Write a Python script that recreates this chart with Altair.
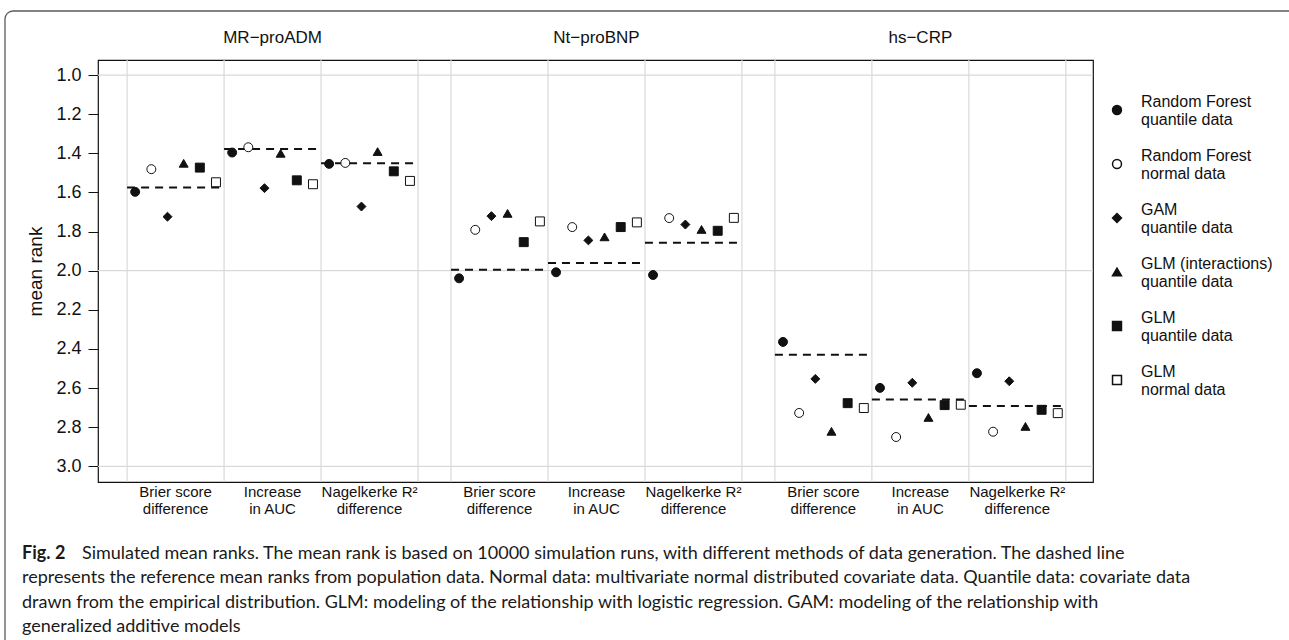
import math
import altair as alt
import pandas as pd

# ---------------- data ----------------
markers = ["MR\u2212proADM", "Nt\u2212proBNP", "hs\u2212CRP"]
metric_line1 = ["Brier score", "Increase", "Nagelkerke R\u00b2"]
metric_line2 = ["difference", "in AUC", "difference"]
method_name = ["Random Forest", "Random Forest", "GAM", "GLM (interactions)", "GLM", "GLM"]
method_data = ["quantile data", "normal data", "quantile data", "quantile data", "quantile data", "normal data"]

rf_quantile      = [1.597, 1.396, 1.454, 2.039, 2.008, 2.022, 2.364, 2.599, 2.524]
rf_normal        = [1.481, 1.369, 1.449, 1.791, 1.777, 1.731, 2.727, 2.850, 2.823]
gam_quantile     = [1.724, 1.578, 1.672, 1.721, 1.845, 1.764, 2.553, 2.573, 2.565]
glm_int_quantile = [1.451, 1.400, 1.391, 1.707, 1.827, 1.789, 2.821, 2.750, 2.796]
glm_quantile     = [1.473, 1.538, 1.492, 1.854, 1.777, 1.796, 2.677, 2.687, 2.711]
glm_normal       = [1.548, 1.558, 1.541, 1.748, 1.753, 1.730, 2.702, 2.685, 2.728]
reference_rank   = [1.575, 1.378, 1.451, 1.995, 1.961, 1.857, 2.429, 2.658, 2.692]

y_ticks = [1.0, 1.2, 1.4, 1.6, 1.8, 2.0, 2.2, 2.4, 2.6, 2.8, 3.0]
y_grid = [1.0, 2.0, 3.0]

caption_label = "Fig. 2"
caption_first = ("Simulated mean ranks. The mean rank is based on 10000 simulation runs, "
                 "with different methods of data generation. The dashed line")
caption_rest = [
    "represents the reference mean ranks from population data. Normal data: multivariate normal "
    "distributed covariate data. Quantile data: covariate data",
    "drawn from the empirical distribution. GLM: modeling of the relationship with logistic "
    "regression. GAM: modeling of the relationship with",
    "generalized additive models",
]

# ---------------- styles ----------------
method_shapes = ["circle", "circle", "diamond", "triangle-up", "square", "square"]
method_fills = ["#111111", "#ffffff", "#111111", "#111111", "#111111", "#ffffff"]
method_sizes = [80, 80, 55, 100, 105, 90]
PANEL_STEP = 3.34
INK = "#111111"
FRAME = "#5a5a5a"
FONT = "Liberation Sans"
CAP_FONT = "Lato"

methods = [f"{a}|{b}" for a, b in zip(method_name, method_data)]
series = [rf_quantile, rf_normal, gam_quantile, glm_int_quantile, glm_quantile, glm_normal]

points = pd.DataFrame([
    {"panel": p, "metric": m, "slot": k, "method": methods[k], "rank": series[k][p * 3 + m]}
    for p in range(3) for m in range(3) for k in range(6)
])
refs = pd.DataFrame([
    {"panel": p, "metric": m, "rank": reference_rank[p * 3 + m]}
    for p in range(3) for m in range(3)
])
vgrid = pd.DataFrame([{"panel": p, "edge": b} for p in range(3) for b in range(4)])
hgrid = pd.DataFrame({"rank": y_grid})
strips = pd.DataFrame({"panel": list(range(3)), "label": markers})
xlabels = pd.DataFrame([
    {"panel": p, "metric": m, "label": metric_line1[m] + "\n" + metric_line2[m]}
    for p in range(3) for m in range(3)
])

xscale = alt.Scale(domain=[-0.3, 3 * 3 + 2 * (PANEL_STEP - 3) + 0.28], nice=False, zero=False)
yscale = alt.Scale(domain=[0.923, 3.08], reverse=True, nice=False, zero=False)
yaxis = alt.Axis(values=y_ticks, format=".1f", title="mean rank", grid=False, domain=False,
                 tickSize=10, tickColor=INK, tickWidth=1, labelFontSize=18, labelColor=INK,
                 labelPadding=7, titleFontSize=19, titleFontWeight="normal", titleColor=INK,
                 titlePadding=10)

X = alt.X("x:Q", scale=xscale, axis=None)
Y = alt.Y("rank:Q", scale=yscale, axis=yaxis)

vlines = alt.Chart(vgrid).transform_calculate(
    x=f"datum.panel * {PANEL_STEP} + datum.edge"
).mark_rule(color="#d9d9d9", strokeWidth=1.2).encode(x=X)

hlines = alt.Chart(hgrid).mark_rule(color="#d9d9d9", strokeWidth=1.2).encode(y=Y)

reflines = alt.Chart(refs).transform_calculate(
    x=f"datum.panel * {PANEL_STEP} + datum.metric",
    x2=f"datum.panel * {PANEL_STEP} + datum.metric + 1",
).mark_rule(color=INK, strokeWidth=2, strokeDash=[8, 6]).encode(
    x=X, x2=alt.X2("x2:Q"), y=Y
)

legend = alt.Legend(title=None, orient="none", legendX=1011, legendY=42,
                    labelExpr="split(datum.label, '|')", labelFontSize=16, labelColor=INK,
                    labelFont=FONT, labelOffset=16, rowPadding=20, padding=0,
                    labelBaseline="bottom")

pts = alt.Chart(points).transform_calculate(
    x=f"datum.panel * {PANEL_STEP} + datum.metric + (datum.slot + 0.5) / 6"
).mark_point(strokeWidth=1, opacity=1).encode(
    x=X,
    y=Y,
    shape=alt.Shape("method:N", scale=alt.Scale(domain=methods, range=method_shapes), legend=legend),
    fill=alt.Fill("method:N", scale=alt.Scale(domain=methods, range=method_fills), legend=legend),
    stroke=alt.Stroke("method:N", scale=alt.Scale(domain=methods, range=[INK] * 6), legend=legend),
    size=alt.Size("method:N", scale=alt.Scale(domain=methods, range=method_sizes), legend=legend),
)

strip_text = alt.Chart(strips).transform_calculate(
    x=f"datum.panel * {PANEL_STEP} + 1.5"
).mark_text(font=FONT, fontSize=17, color=INK, baseline="alphabetic").encode(
    x=X, y=alt.value(-17), text="label:N"
)

xlab_text = alt.Chart(xlabels).transform_calculate(
    x=f"datum.panel * {PANEL_STEP} + datum.metric + 0.5"
).mark_text(font=FONT, fontSize=15, color=INK, baseline="alphabetic", lineBreak="\n",
            lineHeight=17).encode(
    x=X, y=alt.value(437), text="label:N"
)

# outer figure frame: top edge, left edge and the rounded top-left corner
one = pd.DataFrame({"a": [0]})
frame_top = alt.Chart(one).mark_rule(color=FRAME, strokeWidth=1.3).encode(
    x=alt.value(-85), x2=alt.value(1300), y=alt.value(-49))
frame_left = alt.Chart(one).mark_rule(color=FRAME, strokeWidth=1.3).encode(
    x=alt.value(-93), y=alt.value(-41), y2=alt.value(1000))
frame_corner = alt.Chart(one).mark_arc(
    theta=1.5 * math.pi, theta2=2 * math.pi, radius=8, radius2=8,
    fill="transparent", stroke=FRAME, strokeWidth=1.3
).encode(x=alt.value(-85), y=alt.value(-41))

cap_label = alt.Chart(pd.DataFrame({"t": [caption_label]})).mark_text(
    font=CAP_FONT, fontSize=18, fontWeight="bold", color="#1a1a1a", align="left", baseline="alphabetic"
).encode(x=alt.value(-76), y=alt.value(499), text="t:N")

cap_first = alt.Chart(pd.DataFrame({"t": [caption_first]})).mark_text(
    font=CAP_FONT, fontSize=18, color="#1a1a1a", align="left", baseline="alphabetic"
).encode(x=alt.value(-16), y=alt.value(499), text="t:N")

cap_rest = alt.Chart(pd.DataFrame({"t": ["\n".join(caption_rest)]})).mark_text(
    font=CAP_FONT, fontSize=18, color="#1a1a1a", align="left", baseline="alphabetic",
    lineBreak="\n", lineHeight=24.3
).encode(x=alt.value(-76), y=alt.value(523.3), text="t:N")

chart = alt.layer(
    frame_top, frame_left, frame_corner, vlines, hlines, reflines, pts,
    strip_text, xlab_text, cap_label, cap_first, cap_rest
).properties(
    width=995, height=422, autosize="none",
    padding={"left": 98, "top": 60, "right": 196, "bottom": 158},
    background="white",
).configure(font=FONT).configure_view(stroke=INK, strokeWidth=1.2)

chart.save("out.html", embed_options={"renderer": "svg", "actions": False})
